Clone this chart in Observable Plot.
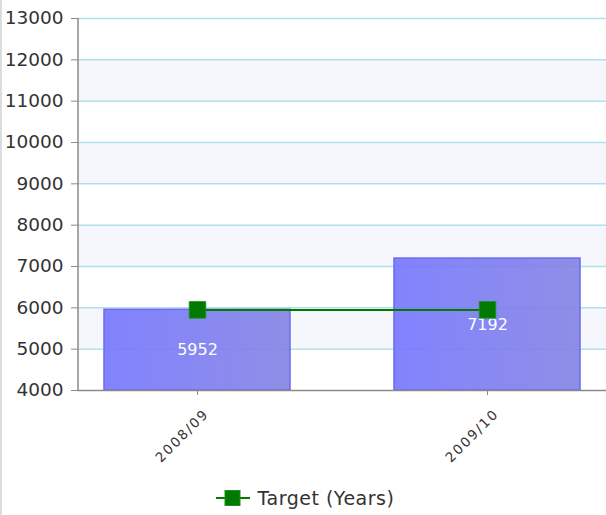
<!DOCTYPE html>
<html>
<head>
<meta charset="utf-8">
<script src="https://cdn.jsdelivr.net/npm/d3@7"></script>
<script src="https://cdn.jsdelivr.net/npm/@observablehq/plot@0.6"></script>
<style>
  html, body { margin: 0; padding: 0; background: #fff; }
  #wrap { width: 604px; border-left: 2px solid #dcdcdc; font-family: "DejaVu Sans", Verdana, sans-serif; }
  #chart svg { display: block; }
  g[aria-label="x-axis tick label"] text { letter-spacing: 1.8px; }
  #legend { height: 37px; display: flex; align-items: center; justify-content: center; gap: 6px; font-size: 19px; letter-spacing: 0.5px; color: #333; padding-left: 2px; padding-top: 2px; box-sizing: border-box; }
  #legend svg { display: block; }
</style>
</head>
<body>
<div id="wrap">
  <div id="chart"></div>
  <div id="legend"></div>
</div>
<script>
// Financial years on the category axis
const years = ["2008/09", "2009/10"];
// Actual values shown as bars
const actuals = [5952, 7192];
// Target values drawn as the green line with square markers
const targets = [5950, 5950];
// Value-axis ticks
const yTicks = [4000, 5000, 6000, 7000, 8000, 9000, 10000, 11000, 12000, 13000];
const seriesName = "Target (Years)";

const rows = years.map((year, i) => ({year, actual: actuals[i], target: targets[i]}));
// shaded stripes between every other pair of gridlines
const stripes = yTicks.slice(0, -1)
  .map((lo, i) => ({lo, hi: yTicks[i + 1]}))
  .filter((d, i) => i % 2 === 1);

const green = "#007a00";

const chart = Plot.plot({
  width: 604,
  height: 478,
  marginLeft: 76,
  marginRight: 0,
  marginTop: 18,
  marginBottom: 88,
  style: {fontFamily: "'DejaVu Sans', Verdana, sans-serif", color: "#333", background: "#fff"},
  x: {domain: years, paddingInner: 0.36, paddingOuter: 0.09, label: null},
  y: {domain: [4000, 13000], ticks: yTicks, label: null},
  marks: [
    // gradient used by the bars
    () => {
      const svgNS = "http://www.w3.org/2000/svg";
      const defs = document.createElementNS(svgNS, "defs");
      defs.innerHTML = `<linearGradient id="barFill" x1="0" x2="1" y1="0" y2="0">
          <stop offset="0" stop-color="#7878ff"/>
          <stop offset="1" stop-color="#8585e4"/>
        </linearGradient>`;
      return defs;
    },
    Plot.rect(stripes, {y1: "lo", y2: "hi", fill: "#f5f7fd"}),
    Plot.ruleY(yTicks.slice(1), {stroke: "#b2e0e8", strokeWidth: 1.5}),
    Plot.barY(rows, {x: "year", y1: 4000, y2: "actual", fill: "url(#barFill)", fillOpacity: 0.92, stroke: "#6a6aee", strokeWidth: 1.5}),
    Plot.text(rows, {x: "year", y: d => (4000 + d.actual) / 2, text: d => String(d.actual), fill: "#fff", fontSize: 16}),
    Plot.line(rows, {x: "year", y: "target", stroke: green, strokeWidth: 2}),
    Plot.dot(rows, {x: "year", y: "target", symbol: "square", r: 9.3, fill: green, stroke: "#1f8f1f", strokeWidth: 1}),
    Plot.ruleY([4000], {stroke: "#8a8a8a", strokeWidth: 1.5}),
    // left axis line
    (index, scales, values, dims) => {
      const svgNS = "http://www.w3.org/2000/svg";
      const line = document.createElementNS(svgNS, "line");
      line.setAttribute("x1", dims.marginLeft);
      line.setAttribute("x2", dims.marginLeft);
      line.setAttribute("y1", dims.marginTop);
      line.setAttribute("y2", dims.height - dims.marginBottom);
      line.setAttribute("stroke", "#8a8a8a");
      line.setAttribute("stroke-width", 1.5);
      return line;
    },
    Plot.axisY({ticks: yTicks, tickSize: 7, tickPadding: 8, fontSize: 18.5, stroke: "#8a8a8a", fill: "#333", tickFormat: d => String(d)}),
    // category ticks, then rotated category labels
    Plot.axisX({tickSize: 5, text: null, stroke: "#8a8a8a"}),
    Plot.axisX({tickSize: 0, tickPadding: 7, tickRotate: -45, fontSize: 13.5, dx: 9, dy: 14, fill: "#333"})
  ]
});
document.getElementById("chart").append(chart);

// legend below the plot
const legend = d3.select("#legend");
const key = legend.append("svg").attr("width", 36).attr("height", 20);
key.append("line").attr("x1", 0).attr("x2", 34).attr("y1", 10).attr("y2", 10).attr("stroke", green).attr("stroke-width", 2);
key.append("rect").attr("x", 9).attr("y", 2.5).attr("width", 15).attr("height", 15).attr("fill", green).attr("stroke", "#1f8f1f");
legend.append("span").text(seriesName);
</script>
</body>
</html>
